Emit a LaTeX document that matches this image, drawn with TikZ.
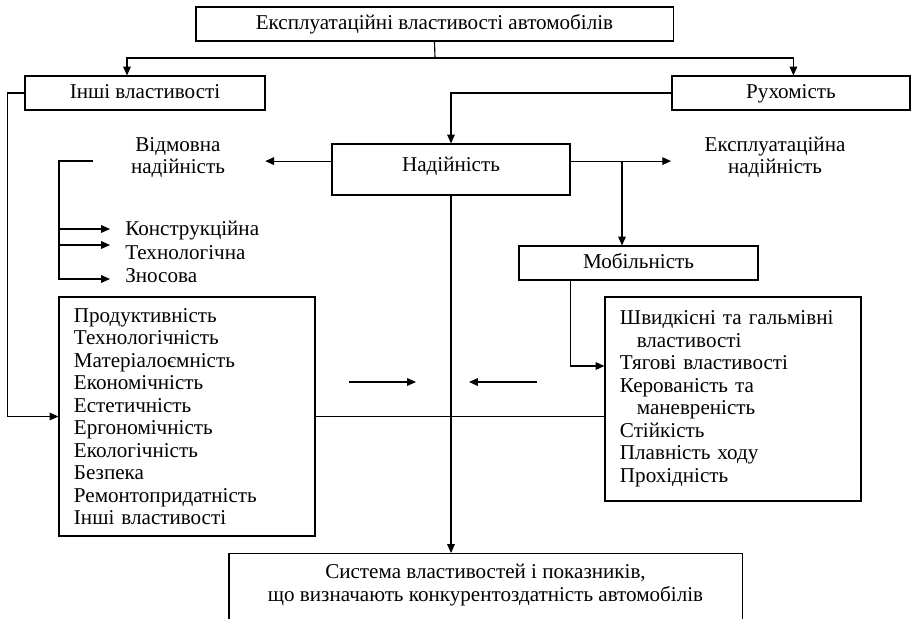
\documentclass[tikz,border=0pt]{standalone}
\usepackage{fontspec}
\setmainfont{Liberation Serif}
\usetikzlibrary{arrows.meta, positioning, calc}

\begin{document}
\begin{tikzpicture}[
    x=0.025cm, y=-0.025cm,
    box/.style={draw, line width=0.8pt, minimum height=0.85cm, inner sep=2pt,
        text height=11pt, text depth=3.5pt, font=\fontsize{15}{16}\selectfont},
    lbl/.style={inner sep=0pt, font=\fontsize{15}{16}\selectfont},
    listbox/.style={draw, line width=0.8pt, align=left, inner xsep=0.375cm,
        text width=5.65cm, font=\fontsize{15}{16}\selectfont},
    arr/.style={-{Triangle[length=2.2mm, width=1.9mm]}, line width=0.8pt},
    ln/.style={line width=0.8pt}
]
    \useasboundingbox (0,0) rectangle (911,618);
    \clip (0,0) rectangle (911,618);

    \node[box, minimum width=11.925cm] (ekspl) at (434.5,24) {Експлуатаційні властивості автомобілів};
    \node[box, minimum width=6cm] (inshi) at (145,93) {Інші властивості};
    \node[box, minimum width=5.95cm] (rukh) at (791,93) {Рухомість};
    \node[box, minimum width=5.95cm, minimum height=1.275cm] (nad) at (451,169.5) {\raisebox{2pt}{Надійність}};

    \node[lbl, align=center, inner xsep=1cm] (vidm) at (178,157.5) {Відмовна\\надійність};
    \node[lbl, align=center, inner xsep=0.83cm] (eknad) at (775,157.5) {Експлуатаційна\\надійність};

    \node[lbl, anchor=west, inner xsep=0.375cm] (kon) at (110,231) {Конструкційна};
    \node[lbl, anchor=west, inner xsep=0.375cm] (tech) at (110,253) {Технологічна};
    \node[lbl, anchor=west, inner xsep=0.375cm] (zn) at (110,276) {Зносова};

    \node[box, minimum width=5.975cm] (mob) at (638.5,263) {Мобільність};

    \node[listbox, minimum height=5.975cm] (prod) at (187,416.5) {Продуктивність\\Технологічність\\Матеріалоємність\\Економічність\\Естетичність\\Ергономічність\\Екологічність\\Безпека\\Ремонтопридатність\\Інші властивості};
    \node[listbox, minimum height=5.1cm] (shv) at (733,399) {Швидкісні та гальмівні\\\hspace*{0.42cm}властивості\\Тягові властивості\\Керованість та\\\hspace*{0.42cm}маневреність\\Стійкість\\Плавність ходу\\Прохідність};

    \node[box, anchor=north, minimum width=12.825cm, align=center, text height=26pt, text depth=60pt, inner ysep=7.8pt] (sys) at (485.5,553) {Система властивостей і показників,\\що визначають конкурентоздатність автомобілів};

    % top level
    \coordinate (split) at (435,58);
    \draw[ln] (ekspl.south) -- (split);
    \draw[arr] (split) -| ([xshift=-0.45cm]inshi.north);
    \draw[arr] (split) -| ([xshift=0.06cm]rukh.north);
    \draw[arr] (rukh.west) -| (nad.north);
    \draw[arr] (inshi.west) -- ++(-17,0) |- (prod.west);

    % reliability
    \coordinate (nw) at ([yshift=0.21cm]nad.west);
    \coordinate (ne) at ([yshift=0.21cm]nad.east);
    \draw[arr] (nw) -- (nw -| vidm.east);
    \draw[arr] (ne) -- (ne -| eknad.west);
    \coordinate (br) at (622,161);
    \draw[arr] (br) -- (br |- mob.north);

    \coordinate (vb) at (93,161);
    \draw[arr] (vb) -- (59,161) |- ($(zn.west)+(0,3)$);
    \draw[arr] (59,229) -- ($(kon.west)+(0,-2)$);
    \draw[arr] (59,245) -- ($(tech.west)+(0,-8)$);

    % mobility
    \draw[arr] ([xshift=-1.69cm]mob.south) |- ([yshift=0.825cm]shv.west);

    \draw[ln] (prod.east) -- (prod.east -| shv.west);
    \draw[arr] (nad.south) -- (nad.south |- sys.north);

    \coordinate (la) at (349,382);
    \coordinate (lb) at (416,382);
    \coordinate (ra) at (537,382);
    \coordinate (rb) at (469,382);
    \draw[arr] (la) -- (lb);
    \draw[arr] (ra) -- (rb);
\end{tikzpicture}
\end{document}
